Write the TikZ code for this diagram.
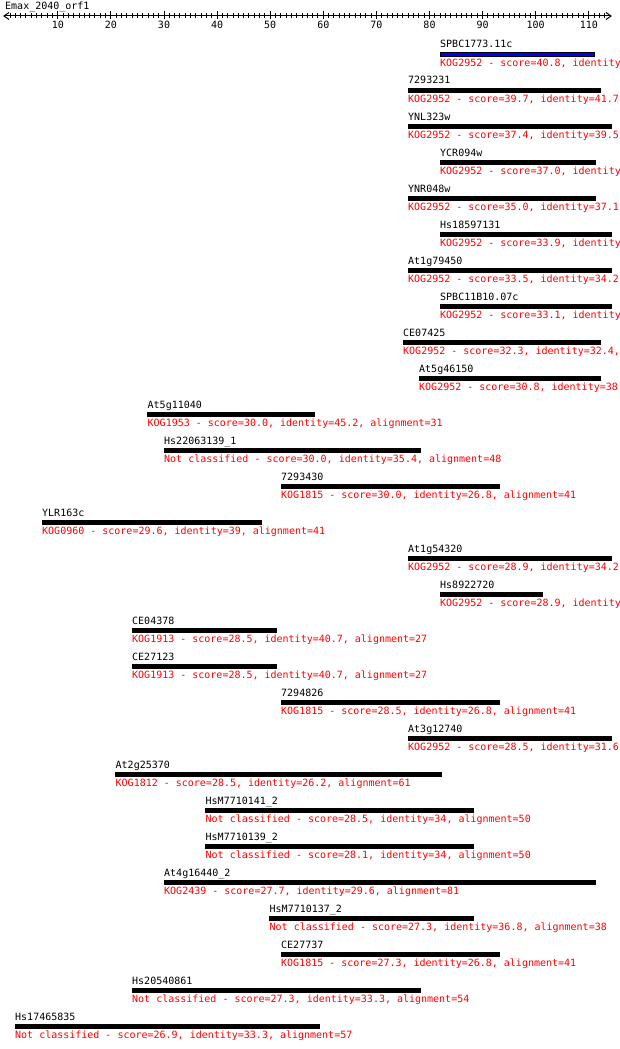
\documentclass[tikz,border=0pt]{standalone}
\usepackage{fontspec}
\newfontfamily\monofont{DejaVu Sans Mono}
\begin{document}
\begin{tikzpicture}[x=1pt,y=-1pt,
  lbl/.style={anchor=base west,inner sep=0pt,font=\monofont\fontsize{10}{12}\selectfont},
  info/.style={lbl,text=red},
  ticklbl/.style={anchor=base,inner sep=0pt,font=\monofont\fontsize{10}{12}\selectfont},
  axisline/.style={line width=1pt,black}]
\useasboundingbox[fill=white] (0,0) rectangle (620,1049);
\clip (0,0) rectangle (620,1049);
% title and axis
\node[lbl] (title) at (5,9.5) {Emax\_2040\_orf1};
\coordinate (axL) at (4,16);
\coordinate (axR) at (611,16);
\draw[axisline] (axL) -- (axR);
\draw[axisline] ([shift={(5,-3.5)}]axL) -- (axL) -- ([shift={(5,3.5)}]axL);
\draw[axisline] ([shift={(-5,-3.5)}]axR) -- (axR) -- ([shift={(-5,3.5)}]axR);
\foreach \u in {1,...,113}{
  \draw[axisline] ({4.7+5.31*\u},13.5) -- ++(0,5);
}
\foreach \u in {10,20,...,110}{
  \draw[axisline] ({4.7+5.31*\u},11.5) -- ++(0,8);
  \node[ticklbl] (tk\u) at ({4.7+5.31*\u},29) {\u};
}
% hits
\foreach \i/\name/\s/\e/\col/\txt in {
 0/SPBC1773.11c/440/594.5/blue/{KOG2952 - score=40.8, identity},
 1/7293231/408/600/black/{KOG2952 - score=39.7, identity=41.7,},
 2/YNL323w/408/611/black/{KOG2952 - score=37.4, identity=39.5,},
 3/YCR094w/440/595/black/{KOG2952 - score=37.0, identity},
 4/YNR048w/408/595/black/{KOG2952 - score=35.0, identity=37.1,},
 5/Hs18597131/440/611/black/{KOG2952 - score=33.9, identity},
 6/At1g79450/408/611/black/{KOG2952 - score=33.5, identity=34.2,},
 7/SPBC11B10.07c/440/611/black/{KOG2952 - score=33.1, identity},
 8/CE07425/403/600/black/{KOG2952 - score=32.3, identity=32.4,},
 9/At5g46150/419/600/black/{KOG2952 - score=30.8, identity=38.},
 10/At5g11040/147.5/314/black/{KOG1953 - score=30.0, identity=45.2, alignment=31},
 11/Hs22063139\_1/164/420/black/{Not classified - score=30.0, identity=35.4, alignment=48},
 12/7293430/281/499/black/{KOG1815 - score=30.0, identity=26.8, alignment=41},
 13/YLR163c/42/261/black/{KOG0960 - score=29.6, identity=39, alignment=41},
 14/At1g54320/408/611/black/{KOG2952 - score=28.9, identity=34.2,},
 15/Hs8922720/440/542/black/{KOG2952 - score=28.9, identity},
 16/CE04378/132/276/black/{KOG1913 - score=28.5, identity=40.7, alignment=27},
 17/CE27123/132/276/black/{KOG1913 - score=28.5, identity=40.7, alignment=27},
 18/7294826/281/499/black/{KOG1815 - score=28.5, identity=26.8, alignment=41},
 19/At3g12740/408/611/black/{KOG2952 - score=28.5, identity=31.6,},
 20/At2g25370/115.5/441/black/{KOG1812 - score=28.5, identity=26.2, alignment=61},
 21/HsM7710141\_2/205.5/473/black/{Not classified - score=28.5, identity=34, alignment=50},
 22/HsM7710139\_2/205.5/473/black/{Not classified - score=28.1, identity=34, alignment=50},
 23/At4g16440\_2/164/595/black/{KOG2439 - score=27.7, identity=29.6, alignment=81},
 24/HsM7710137\_2/269.5/473/black/{Not classified - score=27.3, identity=36.8, alignment=38},
 25/CE27737/281/499/black/{KOG1815 - score=27.3, identity=26.8, alignment=41},
 26/Hs20540861/132/420/black/{Not classified - score=27.3, identity=33.3, alignment=54},
 27/Hs17465835/15/319/black/{Not classified - score=26.9, identity=33.3, alignment=57}}{
  \node[lbl] (n\i) at (\s,{48+36*\i}) {\name};
  \path[fill=\col,draw=black,line width=0.8pt] (\s,{52.4+36*\i}) rectangle (\e,{56.6+36*\i});
  \node[info] (t\i) at (\s,{66.3+36*\i}) {\txt};
}
\end{tikzpicture}
\end{document}
